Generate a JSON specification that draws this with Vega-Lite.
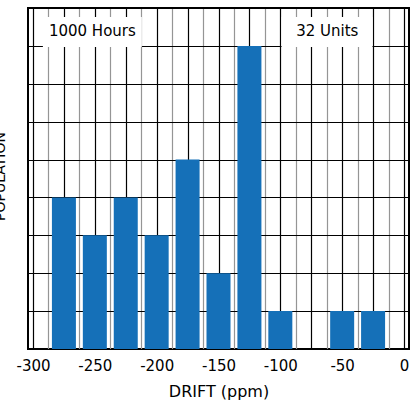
{
  "$schema": "https://vega.github.io/schema/vega-lite/v6.json",
  "width": 381,
  "height": 341,
  "autosize": {"type": "none"},
  "padding": {"left": 28, "top": 8, "right": 6, "bottom": 60},
  "background": "white",
  "config": {
    "view": {"stroke": "#000", "strokeWidth": 2},
    "font": "DejaVu Sans"
  },
  "datasets": {
    "bins": [
      {"drift": -275, "count": 4},
      {"drift": -250, "count": 3},
      {"drift": -225, "count": 4},
      {"drift": -200, "count": 3},
      {"drift": -175, "count": 5},
      {"drift": -150, "count": 2},
      {"drift": -125, "count": 8},
      {"drift": -100, "count": 1},
      {"drift": -75, "count": 0},
      {"drift": -50, "count": 1},
      {"drift": -25, "count": 1}
    ],
    "notes": [
      {"label": "1000 Hours", "drift": -292, "drift_end": -212, "center": -252, "count": 7.97, "count_end": 8.76, "mid": 8.38},
      {"label": "32 Units", "drift": -99, "drift_end": -25.5, "center": -62, "count": 7.97, "count_end": 8.76, "mid": 8.38}
    ]
  },
  "encoding": {
    "x": {
      "field": "drift",
      "type": "quantitative",
      "scale": {"domain": [-300, 0], "nice": false, "zero": false},
      "axis": {
        "title": "DRIFT (ppm)",
        "titleFontSize": 16,
        "titleFontWeight": "normal",
        "titleColor": "#000",
        "titlePadding": 10,
        "values": [-300, -287.5, -275, -262.5, -250, -237.5, -225, -212.5, -200, -187.5, -175, -162.5, -150, -137.5, -125, -112.5, -100, -87.5, -75, -62.5, -50, -37.5, -25, -12.5, 0],
        "labelExpr": "datum.value % 50 === 0 ? '' + datum.value : ''",
        "labelFontSize": 15,
        "labelColor": "#000",
        "labelPadding": 9,
        "labelOverlap": false,
        "labelFlush": false,
        "labelBound": false,
        "ticks": false,
        "domain": false,
        "grid": true,
        "gridOpacity": 1,
        "gridWidth": 1.2,
        "gridColor": {"condition": {"test": "datum.value % 25 === 0", "value": "#000"}, "value": "#959595"}
      }
    },
    "y": {
      "field": "count",
      "type": "quantitative",
      "scale": {"domain": [0, 9], "nice": false},
      "axis": {
        "title": "POPULATION",
        "titleFontSize": 14,
        "titleFontWeight": "normal",
        "titleColor": "#000",
        "titleX": -24,
        "titleY": 168,
        "titleAngle": -90,
        "titleAlign": "center",
        "titleBaseline": "alphabetic",
        "values": [0, 1, 2, 3, 4, 5, 6, 7, 8, 9],
        "labels": false,
        "ticks": false,
        "domain": false,
        "grid": true,
        "gridColor": "#000",
        "gridOpacity": 1,
        "gridWidth": 1.2
      }
    }
  },
  "layer": [
    {
      "data": {"name": "bins"},
      "mark": {"type": "bar", "color": "#1570b8", "size": 24}
    },
    {
      "data": {"name": "notes"},
      "mark": {"type": "rect", "color": "white", "opacity": 1},
      "encoding": {
        "x2": {"field": "drift_end"},
        "y2": {"field": "count_end"}
      }
    },
    {
      "data": {"name": "notes"},
      "mark": {"type": "text", "fontSize": 15, "color": "#000", "align": "center", "baseline": "middle"},
      "encoding": {
        "x": {"field": "center", "type": "quantitative"},
        "y": {"field": "mid", "type": "quantitative"},
        "text": {"field": "label"}
      }
    }
  ]
}
